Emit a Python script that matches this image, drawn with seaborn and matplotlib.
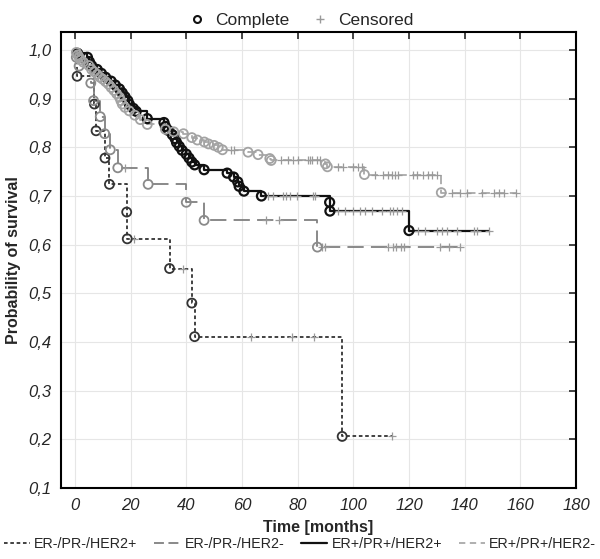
import pandas as pd
import matplotlib
matplotlib.use('Agg')
import matplotlib.pyplot as plt
from matplotlib.ticker import FuncFormatter
from matplotlib.lines import Line2D
import seaborn as sns

# Kaplan-Meier style survival
group_names = ['ER-/PR-/HER2+', 'ER-/PR-/HER2-', 'ER+/PR+/HER2+', 'ER+/PR+/HER2-']

# ER-/PR-/HER2+
g1_event_t = [0.8, 7.0, 7.6, 10.8, 12.4, 18.6, 18.8, 34.0, 42.0, 43.0, 96.0]
g1_event_s = [0.946, 0.889, 0.834, 0.778, 0.724, 0.667, 0.612, 0.551, 0.480, 0.411, 0.206]
g1_cens_t = [21.4, 38.9, 63.1, 78.0, 85.9, 114.0]

# ER-/PR-/HER2-
g2_event_t = [0.5, 1.5, 5.7, 6.7, 9.1, 10.7, 12.7, 15.4, 26.3, 40.0, 46.4, 87.1]
g2_event_s = [0.985, 0.967, 0.932, 0.896, 0.863, 0.828, 0.795, 0.758, 0.724, 0.687, 0.650, 0.595]
g2_cens_t = [18.0, 68.8, 73.3, 88.8, 90.0, 112.5, 114.4, 115.5, 117.3, 118.3, 131.2, 134.2, 138.4]

# ER+/PR+/HER2+
g3_event_t = [1.0, 4.5, 5.2, 6.0, 8.0, 9.5, 11.0, 13.0, 14.5, 16.0, 17.0, 18.0, 19.0, 19.6,
              21.0, 22.0, 26.0, 32.0, 32.5, 33.5, 35.0, 36.0, 36.5, 37.5, 38.5, 40.0, 41.0,
              42.0, 43.0, 46.4, 54.7, 57.0, 58.5, 59.0, 60.7, 67.0, 91.5, 91.6, 120.0]
g3_event_s = [0.993, 0.985, 0.976, 0.968, 0.960, 0.952, 0.944, 0.936, 0.928, 0.920, 0.912,
              0.904, 0.896, 0.888, 0.880, 0.874, 0.859, 0.851, 0.843, 0.835, 0.826, 0.818,
              0.810, 0.802, 0.794, 0.786, 0.778, 0.770, 0.764, 0.754, 0.747, 0.739, 0.729,
              0.720, 0.710, 0.700, 0.687, 0.669, 0.629]
g3_cens_t = [69.4, 71.2, 74.8, 76.0, 77.2, 79.6, 85.6, 86.2, 94.6, 97.0, 100.0, 102.4, 104.2,
             106.6, 110.2, 113.2, 114.4, 115.6, 117.4, 123.4, 125.8, 130.0, 131.8, 133.6,
             137.2, 143.3, 144.5, 148.9]

# ER+/PR+/HER2-
g4_event_t = [0.5, 1.0, 1.5, 2.0, 3.0, 5.0, 6.0, 7.0, 8.0, 9.0, 10.0, 11.0, 12.0, 13.0, 14.0,
              15.0, 16.0, 16.5, 17.0, 18.0, 19.5, 21.5, 23.5, 26.0, 32.5, 35.5, 39.0, 42.0,
              44.0, 46.5, 48.0, 50.0, 51.5, 53.0, 62.2, 65.8, 70.0, 70.5, 90.0, 90.7, 104.0,
              131.6]
g4_event_s = [0.995, 0.990, 0.985, 0.980, 0.975, 0.968, 0.960, 0.955, 0.950, 0.944, 0.940,
              0.935, 0.930, 0.923, 0.917, 0.910, 0.903, 0.896, 0.889, 0.882, 0.875, 0.866,
              0.857, 0.847, 0.837, 0.832, 0.828, 0.820, 0.815, 0.811, 0.807, 0.804, 0.800,
              0.795, 0.790, 0.785, 0.777, 0.773, 0.766, 0.760, 0.744, 0.707]
g4_cens_t = [56.0, 57.2, 74.2, 76.6, 78.4, 80.2, 83.8, 84.4, 85.0, 86.8, 88.0, 94.6, 96.4,
             100.0, 101.8, 103.0, 107.8, 110.8, 112.6, 113.8, 115.0, 116.2, 121.6, 122.8,
             125.2, 127.0, 128.2, 130.0, 135.4, 138.4, 140.8, 146.3, 150.5, 152.3, 154.1,
             158.3]

line_colors = ['#333333', '#808080', '#111111', '#a9a9a9']
circle_colors = ['#333333', '#8a8a8a', '#111111', '#a3a3a3']
line_styles = [(0, (2, 1.5)), (0, (9, 4)), '-', (0, (5, 3))]
legend_styles = [(0, (2, 1.5)), (0, (5.5, 2.5)), '-', (0, (3.5, 2.5))]
line_widths = [1.3, 1.3, 1.6, 1.3]

event_t = [g1_event_t, g2_event_t, g3_event_t, g4_event_t]
event_s = [g1_event_s, g2_event_s, g3_event_s, g4_event_s]
cens_t = [g1_cens_t, g2_cens_t, g3_cens_t, g4_cens_t]


def surv_at(t, ts, ss):
    val = 1.0
    for a, b in zip(ts, ss):
        if a <= t:
            val = b
    return val


sns.set_style('white')
plt.rcParams['font.family'] = ['Liberation Sans', 'DejaVu Sans']

fig, ax = plt.subplots(figsize=(6.0, 5.59), dpi=100)
fig.subplots_adjust(left=61 / 600, right=576 / 600, top=1 - 32 / 559, bottom=1 - 488 / 559)

for i, name in enumerate(group_names):
    ts, ss, cs = event_t[i], event_s[i], cens_t[i]
    pts = sorted(set([0.0] + ts + cs))
    curve = pd.DataFrame({'t': pts, 's': [surv_at(t, ts, ss) for t in pts]})
    sns.lineplot(data=curve, x='t', y='s', ax=ax, drawstyle='steps-post', estimator=None,
                 sort=False, color=line_colors[i], linestyle=line_styles[i],
                 linewidth=line_widths[i], zorder=2 + i * 0.1)
    cens = pd.DataFrame({'t': cs, 's': [surv_at(t, ts, ss) for t in cs]})
    sns.scatterplot(data=cens, x='t', y='s', ax=ax, marker='+', s=30, color='#9a9a9a',
                    linewidth=0.9, zorder=3)
    ev = pd.DataFrame({'t': ts, 's': ss})
    sns.scatterplot(data=ev, x='t', y='s', ax=ax, marker='o', s=42, facecolor='none',
                    edgecolor=circle_colors[i], linewidth=1.6 if i == 2 else 1.3, zorder=4)

ax.set_xlim(-5, 180)
ax.set_ylim(0.1, 1.037)
ax.set_xticks(range(0, 181, 20))
ax.set_yticks([0.1, 0.2, 0.3, 0.4, 0.5, 0.6, 0.7, 0.8, 0.9, 1.0])
ax.yaxis.set_major_formatter(FuncFormatter(lambda v, p: f'{v:.1f}'.replace('.', ',')))
ax.tick_params(direction='in', length=5, width=1.2, top=True, right=True,
               labelsize=12, pad=7)
for lab in ax.get_xticklabels() + ax.get_yticklabels():
    lab.set_fontstyle('italic')
ax.grid(True, color='#e6e6e6', linewidth=0.8)
for sp in ax.spines.values():
    sp.set_color('black')
    sp.set_linewidth(1.5)

ax.set_xlabel('Time [months]', fontsize=11.5, fontweight='bold', labelpad=5)
ax.set_ylabel('Probability of survival', fontsize=11.5, fontweight='bold', labelpad=5)

top_handles = [
    Line2D([], [], marker='o', linestyle='none', markerfacecolor='none',
           markeredgecolor='#111111', markeredgewidth=1.5, markersize=5),
    Line2D([], [], marker='+', linestyle='none', color='#9a9a9a', markersize=6),
]
fig.legend(top_handles, ['Complete', 'Censored'], loc='upper center',
           bbox_to_anchor=(0.5, 1.005), ncol=2, frameon=False, fontsize=12.5,
           handletextpad=0.4, columnspacing=1.2, handlelength=1.2)

bottom_handles = [Line2D([], [], color=line_colors[i], linestyle=legend_styles[i],
                         linewidth=line_widths[i]) for i in range(4)]
fig.legend(bottom_handles, group_names, loc='lower center', bbox_to_anchor=(0.5, -0.008),
           ncol=4, frameon=False, fontsize=10.3, handlelength=1.8, handletextpad=0.3,
           columnspacing=1.2)

fig.savefig('out.png', dpi=100)
